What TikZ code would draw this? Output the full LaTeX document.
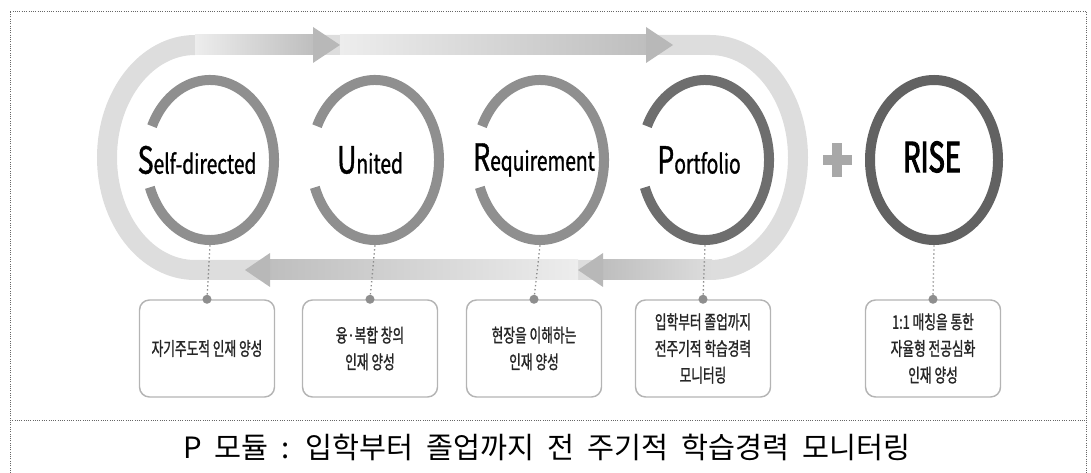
\documentclass[tikz,border=0pt]{standalone}
\usepackage{fontspec}
\usetikzlibrary{calc,shapes.geometric}
\newfontfamily\krfont[FakeStretch=0.68, FakeBold=1.2]{Noto Sans CJK KR}
\newfontfamily\labelfont[FakeStretch=0.72, FakeBold=1]{Noto Sans CJK KR}
\newfontfamily\risefont[FakeStretch=0.66, FakeBold=2.5]{Noto Sans CJK KR}
\newfontfamily\capfont[WordSpace=2]{Noto Sans CJK KR}
\definecolor{ringgray}{HTML}{8F8F8F}
\definecolor{ringdark}{HTML}{6E6E6E}
\definecolor{risegray}{HTML}{626262}
\definecolor{bandlight}{HTML}{DDDDDD}
\definecolor{bandpale}{HTML}{EDEDED}
\definecolor{banddark}{HTML}{BEBEBE}
\definecolor{arrowgray}{HTML}{B8B8B8}
\definecolor{boxgray}{HTML}{B4B4B4}
\definecolor{dotgray}{HTML}{8E8E8E}
\definecolor{plusgray}{HTML}{A8A8A8}
\def\headright(#1,#2){\fill[arrowgray] (#1-27,#2-18) -- (#1,#2) -- (#1-27,#2+18) -- cycle;}
\def\headleft(#1,#2){\fill[arrowgray] (#1+25,#2-17) -- (#1,#2) -- (#1+25,#2+17) -- cycle;}
\def\initial#1{{\fontsize{28}{28}\selectfont #1}}
\tikzset{
	band/.style={line width=15pt, color=bandlight},
	ring/.style={line width=7.5pt},
	slot/.style={ellipse, minimum width=103.5pt, minimum height=127.5pt, inner sep=0pt},
	lbl/.style={font=\labelfont\fontsize{20}{24}\selectfont, inner sep=0pt},
	infobox/.style={draw=boxgray, line width=1.1pt, rounded corners=7.5pt, minimum width=101.25pt, minimum height=72.75pt, align=center, inner sep=0pt, text=black!85, font=\krfont\fontsize{14}{20}\selectfont},
	dotline/.style={dotted, line width=1pt, color=dotgray},
	frame/.style={densely dotted, line width=0.7pt, color=black!60},
}
\begin{document}
\begin{tikzpicture}[x=0.75pt, y=-0.75pt]
		%%%%% START %%%%%
		\useasboundingbox (0,0) rectangle (1091,473);
		
		\draw[frame] (10,473) -- (10,11) -- (1086,11) -- (1086,473);
		\draw[frame] (10,420) -- (1086,420);
		
		% loop band
		\draw[band] (195,45) -- (710,45) arc[start angle=-90, end angle=90, x radius=88, y radius=112.5] -- (195,270) arc[start angle=90, end angle=270, x radius=88, y radius=112.5] -- cycle;
		\shade[left color=bandpale, right color=banddark] (195,35) rectangle (314,55);
		\shade[left color=bandpale, right color=banddark] (340,35) rectangle (647,55);
		\shade[left color=banddark, right color=bandlight] (602,260) rectangle (712,280);
		\shade[left color=banddark, right color=bandpale] (268,260) rectangle (578,280);
		\headright(340,45)
		\headright(673,45)
		\headleft(578,270)
		\headleft(245,270)
		
		% circles
		\node[slot] (sd) at (210,160) {};
		\node[slot] (un) at (375,160) {};
		\node[slot] (rq) at (540,160) {};
		\node[slot] (pf) at (705,160) {};
		\node[slot] (rise) at (934,160) {};
		\draw[ring, color=ringgray] ([shift={(205:64 and 80)}]sd.center) arc[start angle=205, end angle=520, x radius=64, y radius=80];
		\draw[ring, color=ringgray] ([shift={(205:64 and 80)}]un.center) arc[start angle=205, end angle=520, x radius=64, y radius=80];
		\draw[ring, color=ringgray] ([shift={(205:64 and 80)}]rq.center) arc[start angle=205, end angle=520, x radius=64, y radius=80];
		\draw[ring, color=ringdark] ([shift={(205:64 and 80)}]pf.center) arc[start angle=205, end angle=520, x radius=64, y radius=80];
		\draw[ring, color=risegray] (rise.center) ellipse[x radius=64, y radius=80];
		
		\node[lbl] (sdl) at (197,160) {\initial{S}elf-directed};
		\node[lbl] (unl) at (370,160) {\initial{U}nited};
		\node[lbl] (rql) at (534,160) {\initial{R}equirement};
		\node[lbl] (pfl) at (699,160) {\initial{P}ortfolio};
		\node[lbl, font=\risefont\fontsize{31}{31}\selectfont] (risel) at (932,157) {RISE};
		
		% plus
		\fill[plusgray] (822.5,155) rectangle (851.5,165);
		\fill[plusgray] (832,143) rectangle (842,177);
		
		% boxes
		\node[infobox] (sdb) at (207,348.5) {자기주도적 인재 양성};
		\node[infobox] (unb) at (370,348.5) {융·복합 창의\\인재 양성};
		\node[infobox] (rqb) at (534,348.5) {현장을 이해하는\\인재 양성};
		\node[infobox] (pfb) at (703,348.5) {입학부터 졸업까지\\전주기적 학습경력\\모니터링};
		\node[infobox] (riseb) at (933,348.5) {1:1 매칭을 통한\\자율형 전공심화\\인재 양성};
		
		\draw[dotline] (sd.south) -- (sdb.north);
		\draw[dotline] (un.south) -- (unb.north);
		\draw[dotline] (rq.south) -- (rqb.north);
		\draw[dotline] (pf.south) -- (pfb.north);
		\draw[dotline] (rise.south) -- (riseb.north);
		\fill[dotgray] (sdb.north) circle (3.4pt);
		\fill[dotgray] (unb.north) circle (3.4pt);
		\fill[dotgray] (rqb.north) circle (3.4pt);
		\fill[dotgray] (pfb.north) circle (3.4pt);
		\fill[dotgray] (riseb.north) circle (3.4pt);
		
		\node[font=\capfont\fontsize{22}{26}\selectfont, inner sep=0pt] (cap) at (547,447) {P 모듈 : 입학부터 졸업까지 전 주기적 학습경력 모니터링};
		
		%%%%% END %%%%%
\end{tikzpicture}
\end{document}
